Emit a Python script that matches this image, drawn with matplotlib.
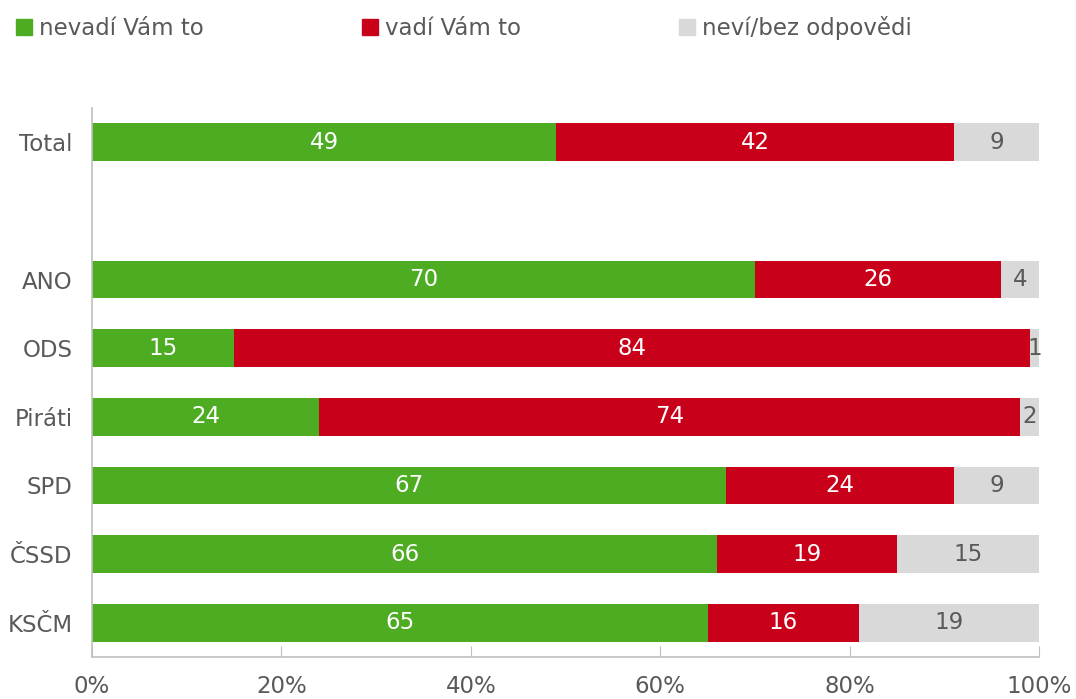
import numpy as np
import matplotlib.pyplot as plt
from matplotlib.patches import Patch

# data
categories = ["Total", "", "ANO", "ODS", "Piráti", "SPD", "ČSSD", "KSČM"]
nevadi = [49, None, 70, 15, 24, 67, 66, 65]
vadi = [42, None, 26, 84, 74, 24, 19, 16]
nevi = [9, None, 4, 1, 2, 9, 15, 19]
series_names = ["nevadí Vám to", "vadí Vám to", "neví/bez odpovědi"]

colors = ["#4EAC23", "#C8001A", "#D9D9D9"]
text_colors = ["white", "white", "#595959"]
grey = "#595959"

fig = plt.figure(figsize=(10.76, 6.99), dpi=100)
ax = fig.add_axes([92 / 1076, 42 / 699, (1039 - 92) / 1076, (657 - 108) / 699])

pos = np.arange(len(categories))
series = [nevadi, vadi, nevi]
left = np.zeros(len(categories))
for vals, col, tcol in zip(series, colors, text_colors):
    v = np.array([0 if x is None else x for x in vals], dtype=float)
    mask = np.array([x is not None for x in vals])
    ax.barh(pos[mask], v[mask], left=left[mask], height=0.55, color=col)
    for p, l, x in zip(pos[mask], left[mask], v[mask]):
        ax.text(l + x / 2, p, f"{int(x)}", ha="center", va="center",
                color=tcol, fontsize=16.5)
    left = left + v

ax.set_ylim(len(categories) - 0.5, -0.5)
ax.set_xlim(0, 100)
ax.set_yticks([p for p, c in zip(pos, categories) if c])
ax.set_yticklabels([c for c in categories if c], fontsize=16.5, color=grey)
ax.set_xticks(np.arange(0, 101, 20))
ax.set_xticklabels([f"{t}%" for t in range(0, 101, 20)], fontsize=16.5, color=grey)
ax.tick_params(axis="y", length=0, pad=14)
ax.tick_params(axis="x", direction="in", length=8, color="#BFBFBF", pad=13)

for s in ["top", "right"]:
    ax.spines[s].set_visible(False)
for s in ["left", "bottom"]:
    ax.spines[s].set_color("#BFBFBF")
    ax.spines[s].set_linewidth(1.2)

handles = [Patch(color=c) for c in colors]
fig.legend(handles, series_names, loc="upper left", bbox_to_anchor=(0.0, 1.0),
           ncol=3, frameon=False, fontsize=16.5, labelcolor=grey,
           handlelength=0.7, handleheight=0.7, handletextpad=0.3,
           columnspacing=6.9, borderaxespad=0.3)

plt.savefig("out.png", dpi=100)
